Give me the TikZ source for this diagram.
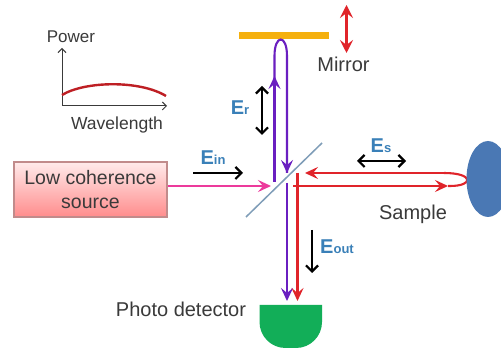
\documentclass[tikz,border=0pt]{standalone}
\usepackage{fontspec}
\setmainfont{Liberation Sans}
\usetikzlibrary{arrows.meta,calc}
\definecolor{txtgray}{HTML}{3A3A3A}
\definecolor{eblue}{HTML}{3A80B8}
\definecolor{beamred}{HTML}{E0242A}
\definecolor{beampurple}{HTML}{6A1FC0}
\definecolor{beampink}{HTML}{EC3A9C}
\definecolor{mirroryellow}{HTML}{F5B00E}
\definecolor{samplecol}{HTML}{4A78B4}
\definecolor{detgreen}{HTML}{12AE58}
\definecolor{splitcol}{HTML}{7F9DB8}
\newcommand{\elabel}[1]{{\fontsize{20}{20}\selectfont\bfseries E}{\fontsize{13}{13}\selectfont\bfseries #1}}
\tikzset{
  lbl/.style={text=txtgray,inner sep=0pt,align=center,font=\fontsize{20}{24}\selectfont},
  elbl/.style={text=eblue,inner sep=0pt},
  blackarrow/.style={black,line width=2.2pt,-{Straight Barb[length=6pt,width=12pt,line width=2.2pt]}},
  blackdouble/.style={black,line width=2.2pt,{Straight Barb[length=6pt,width=12pt,line width=2.2pt]}-{Straight Barb[length=6pt,width=12pt,line width=2.2pt]}},
  beam/.style={line width=2.1pt},
  tip/.style={-{Stealth[length=13pt,width=12pt,inset=5pt]}},
}
\begin{document}
\begin{tikzpicture}[x=1pt,y=-1pt]
\useasboundingbox (0,0) rectangle (501,352);
\clip (0,0) rectangle (501,352);
\fill[white] (0,0) rectangle (501,352);
% named points
\coordinate (axO) at (62,106);
\coordinate (axY) at (62,48);
\coordinate (axX) at (167,106);
\coordinate (spA) at (246,217);
\coordinate (spB) at (322,143);
\coordinate (mirA) at (346.5,5);
\coordinate (mirB) at (346.5,53);
\coordinate (pL) at (274.5,182);
\coordinate (pLt) at (274.5,56);
\coordinate (pRt) at (287,56);
\coordinate (pRend) at (287,173);
\coordinate (pD0) at (287,183);
\coordinate (pD1) at (287,301);
\coordinate (rD0) at (297.5,173);
\coordinate (rD1) at (297.5,301);
\coordinate (rH0) at (293,186);
\coordinate (rHt) at (448,186);
\coordinate (rU0) at (444,173);
\coordinate (rU1) at (305,173);
\coordinate (srcR) at (168,186);
\coordinate (srcT) at (271,186);
\coordinate (einA) at (193,173);
\coordinate (einB) at (243,173);
\coordinate (erA) at (262,86);
\coordinate (erB) at (262,135);
\coordinate (esA) at (357,161);
\coordinate (esB) at (406,161);
\coordinate (eoA) at (312,230);
\coordinate (eoB) at (312,273);
% mirror
\fill[mirroryellow] (239,32) rectangle (329,39);
\draw[beamred,line width=2.4pt,{Stealth[length=13pt,width=13pt,inset=5pt]}-{Stealth[length=13pt,width=13pt,inset=5pt]}] (mirA) -- (mirB);
\node[lbl] (mirrorlbl) at (343.5,64) {Mirror};
% plot
\draw[txtgray,line width=1pt,{Straight Barb[length=4pt,width=8pt]}-{Straight Barb[length=4pt,width=8pt]}] (axY) -- (axO) -- (axX);
\draw[beamred!85!black,line width=2.4pt] (62,95) .. controls (85,81) and (140,80) .. (166,96);
\node[lbl,font=\fontsize{17}{20}\selectfont] (powerlbl) at (71,37) {Power};
\node[lbl,font=\fontsize{17.5}{20}\selectfont] (wavelbl) at (117,125) {Wavelength};
% source
\node[draw=red!30!gray!70,line width=1.2pt,minimum width=153pt,minimum height=55pt,inner sep=0pt,top color=red!8,bottom color=red!45,text=txtgray,align=center,font=\fontsize{19.5}{24}\selectfont] (source) at (90.5,189.5) {Low coherence\\source};
% splitter
\draw[splitcol,line width=1.5pt] (spA) -- (spB);
% purple beams
\draw[beampurple,beam] (pL) -- (pLt) .. controls (274.5,34) and (287,34) .. (pRt) -- (pRend);
\draw[beampurple,beam,tip] (pL) -- (274.5,76);
\draw[beampurple,beam,tip] (287,150) -- (pRend);
\draw[beampurple,beam,tip] (pD0) -- (pD1);
% red beams
\draw[beamred,beam,tip] (rD0) -- (rD1);
\draw[beamred,beam,tip] (rH0) -- (rHt);
\draw[beamred,beam] (rHt) -- (450,186) .. controls (474,186) and (474,173) .. (rU0);
\draw[beamred,beam,tip] (rU0) -- (rU1);
% pink beam
\draw[beampink,line width=2.6pt,tip] (srcR) -- (srcT);
% sample
\fill[samplecol] (488,179) ellipse [x radius=21.5,y radius=38];
\node[lbl] (samplelbl) at (413,214) {Sample};
% black arrows
\draw[blackarrow] (einA) -- (einB);
\draw[blackdouble] (erA) -- (erB);
\draw[blackdouble] (esA) -- (esB);
\draw[blackarrow] (eoA) -- (eoB);
\node[elbl] (ein) at (213,158) {\elabel{in}};
\node[elbl] (er) at (240,108) {\elabel{r}};
\node[elbl] (es) at (381,146) {\elabel{s}};
\node[elbl] (eout) at (337,247) {\elabel{out}};
% detector
\fill[detgreen] (259.5,305) -- (322,305) -- (322,322) arc[start angle=0,end angle=90,radius=26] -- (285.5,348) arc[start angle=90,end angle=180,radius=26] -- cycle;
\node[lbl] (detlbl) at (181,309) {Photo detector};
\end{tikzpicture}
\end{document}
